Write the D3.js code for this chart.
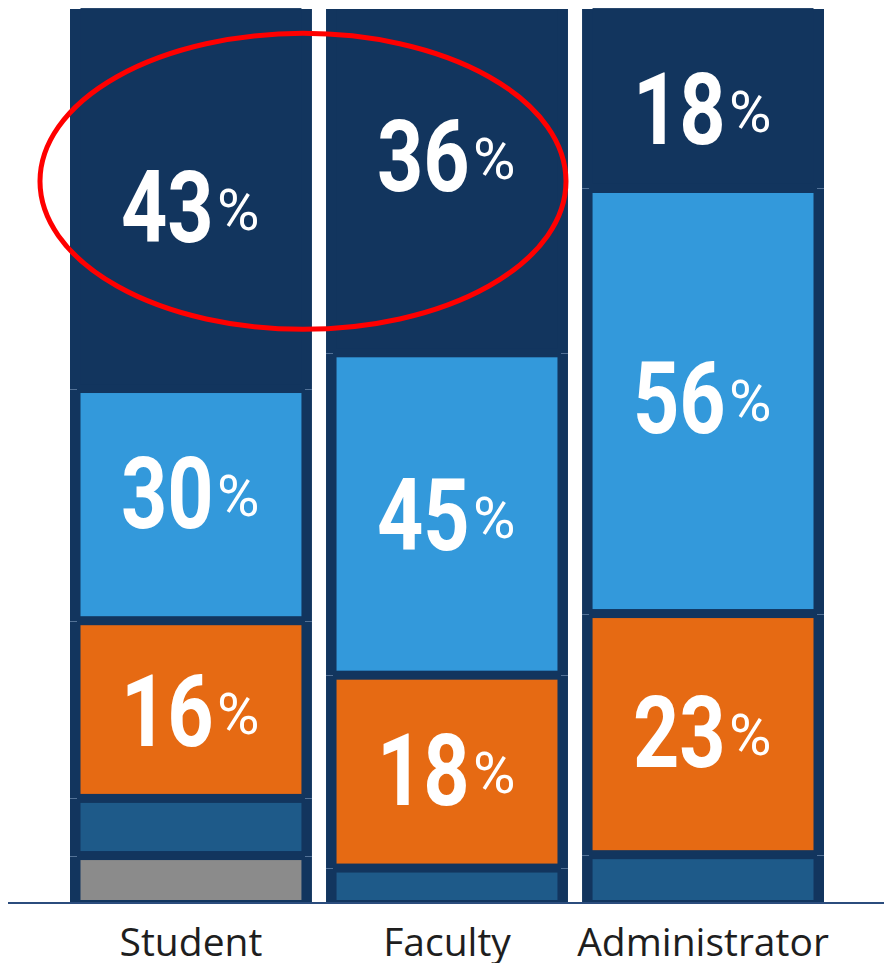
<!DOCTYPE html>
<html>
<head>
<meta charset="utf-8">
<script src="https://cdn.jsdelivr.net/npm/d3@7"></script>
<style>
  html, body { margin: 0; padding: 0; background: #ffffff; }
  svg { display: block; }
</style>
</head>
<body>
<svg id="chart" width="884" height="963"></svg>
<script>
// ---- Data ----
const categories = ["Student", "Faculty", "Administrator"];
// series keys, bottom to top of each column
const seriesKeys = ["gray", "steel", "orange", "light", "navy"];
// visual share of each column taken by each segment (percent of column height)
const navyShare   = [42.6, 38.5, 20.2];
const lightShare  = [26.0, 36.1, 47.6];
const orangeShare = [19.9, 21.6, 27.0];
const steelShare  = [6.4, 3.8, 5.3];
const grayShare   = [5.2, 0, 0];
// printed percentage labels
const navyLabel   = [43, 36, 18];
const lightLabel  = [30, 45, 56];
const orangeLabel = [16, 18, 23];
const yTicks = [0, 100];

const colors = {
  navy: "#12355e", light: "#3399db", orange: "#e66a13",
  steel: "#1e5a89", gray: "#8b8b8b"
};
// small vertical nudges of the printed labels (layout, px)
const labelNudge = {
  navy: [8, -26, 10], light: [-13, 0, -4], orange: [0, -3, -3]
};

const table = categories.map((c, i) => ({
  cat: c,
  navy: navyShare[i], light: lightShare[i], orange: orangeShare[i],
  steel: steelShare[i], gray: grayShare[i]
}));
const labels = {
  navy: navyLabel, light: lightLabel, orange: orangeLabel
};

const svg = d3.select("#chart");
const x = d3.scaleBand().domain(categories).range([70, 824]).paddingInner(0.055).paddingOuter(0);
const y = d3.scaleLinear().domain([yTicks[0], yTicks[1]]).range([902, 9]);

const stack = d3.stack().keys(seriesKeys);
const stacked = stack(table);

// column backgrounds
svg.append("g").selectAll("rect").data(table).join("rect")
  .attr("x", d => x(d.cat))
  .attr("width", x.bandwidth())
  .attr("y", y(100))
  .attr("height", y(0) - y(100))
  .attr("fill", colors.navy);

const insetX = 10.5, insetY = 4.5;
// inner segments
const segG = svg.append("g");
stacked.forEach(layer => {
  segG.selectAll(null).data(layer.filter(d => d[1] - d[0] > 0)).join("rect")
    .attr("x", d => x(d.data.cat) + insetX)
    .attr("width", x.bandwidth() - 2 * insetX)
    .attr("y", d => y(d[1]) + (d[1] >= 100 ? 0 : insetY))
    .attr("height", d => Math.max(0, (y(d[0]) - y(d[1])) - (d[1] >= 100 ? 0 : insetY) - (d[0] <= 0 ? 2 : insetY)))
    .attr("fill", colors[layer.key]);
});

// faint boundary ticks on column edges
const tickG = svg.append("g").attr("stroke", "#6f8cb0").attr("stroke-width", 1).attr("opacity", 0.7);
stacked.forEach(layer => {
  layer.filter(d => d[0] > 0 && d[1] - d[0] > 0).forEach(d => {
    const yy = Math.round(y(d[0])) + 0.5;
    const x0 = x(d.data.cat), x1 = x0 + x.bandwidth();
    tickG.append("line").attr("x1", x0).attr("x2", x0 + 7).attr("y1", yy).attr("y2", yy);
    tickG.append("line").attr("x1", x1 - 7).attr("x2", x1).attr("y1", yy).attr("y2", yy);
  });
});

// axis baseline
svg.append("line")
  .attr("x1", 8).attr("x2", 884)
  .attr("y1", y(0) + 1).attr("y2", y(0) + 1)
  .attr("stroke", "#2b4c7d").attr("stroke-width", 2);

// percentage labels
const labG = svg.append("g");
["navy", "light", "orange"].forEach(key => {
  const layer = stacked.find(l => l.key === key);
  layer.forEach((d, i) => {
    const val = labels[key][i];
    const cx = x(d.data.cat) + x.bandwidth() / 2;
    const cy = (y(d[0]) + y(d[1])) / 2 + labelNudge[key][i];
    const digitW = 92, gap = 4, pctW = 44;
    const total = digitW + gap + pctW;
    const g = labG.append("g").attr("transform", `translate(${cx - total / 2},${cy + 36})`);
    g.append("g").attr("transform", "scale(0.8,1)")
      .append("text")
      .attr("x", 0).attr("y", 0)
      .attr("font-family", "Roboto, 'DejaVu Sans', sans-serif")
      .attr("font-weight", 700)
      .attr("font-size", 101)
      .attr("fill", "#ffffff")
      .text(val);
    g.append("text")
      .attr("x", digitW + gap).attr("y", -12)
      .attr("font-family", "Roboto, 'DejaVu Sans', sans-serif")
      .attr("font-weight", 400)
      .attr("font-size", 58)
      .attr("fill", "#ffffff")
      .text("%");
  });
});

// category labels
svg.append("g").selectAll("text").data(categories).join("text")
  .attr("x", d => x(d) + x.bandwidth() / 2)
  .attr("y", 956)
  .attr("text-anchor", "middle")
  .attr("font-family", "'Open Sans', 'Noto Sans', sans-serif")
  .attr("font-size", 39)
  .attr("fill", "#1e1e1e")
  .text(d => d);

// red annotation ellipse around the top segments of Student and Faculty
const cxE = (x("Student") + x("Faculty") + x.bandwidth()) / 2 - 16;
svg.append("ellipse")
  .attr("cx", cxE)
  .attr("cy", y(80.7))
  .attr("rx", 263)
  .attr("ry", 148)
  .attr("fill", "none")
  .attr("stroke", "#ff0000")
  .attr("stroke-width", 5);
</script>
</body>
</html>
